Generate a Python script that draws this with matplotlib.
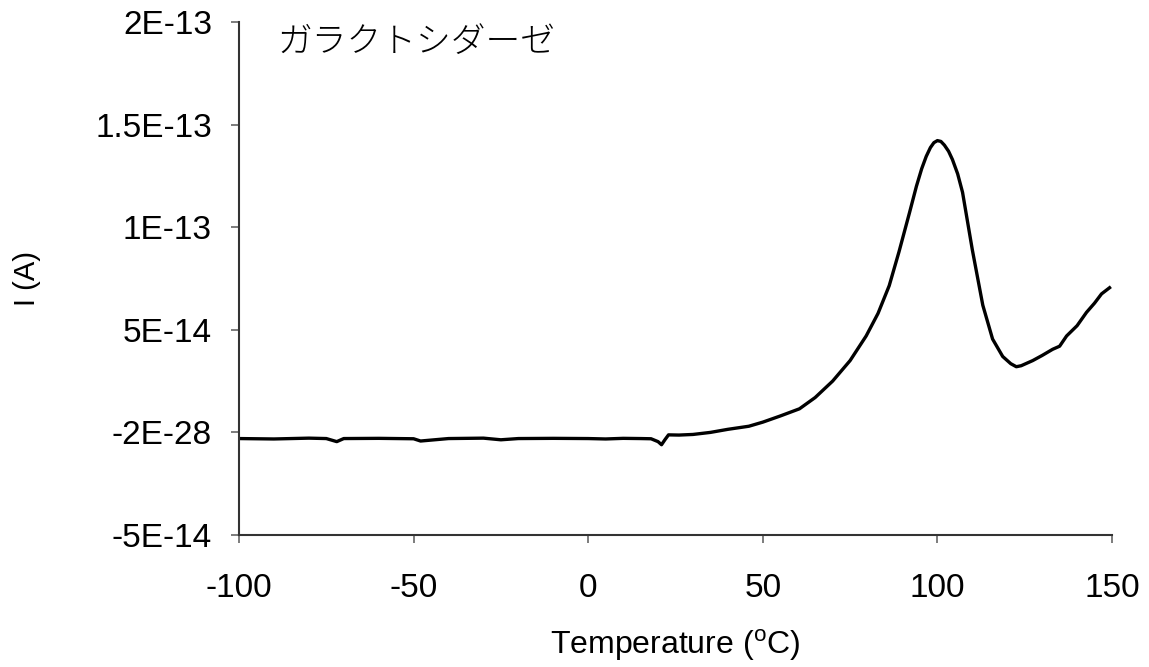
import matplotlib
matplotlib.use("Agg")
import matplotlib.pyplot as plt
import numpy as np

# Data (temperature in degC, current in units of 1e-15 A)
temperature = [-100, -90, -80, -75, -72, -70, -60, -50, -48, -40, -30, -25, -20, -10, 0, 5, 10, 15, 18,
               20, 21, 22, 23, 26, 30, 35, 40, 46, 50, 55, 60.5, 65, 70, 75, 79.6, 83, 86.2, 89, 92,
               94, 95.5, 96.8, 98, 99, 100, 101, 102, 103.2, 104.3, 105.8, 107.2, 110, 113, 115.8, 118.7, 121, 122.6, 124,
               127.3, 130, 133, 135, 137, 140, 142.7, 145, 147, 149.3]
current_fA = [-3.0, -3.2, -2.8, -3.0, -4.5, -3.0, -2.9, -3.1, -4.2, -3.0, -2.8, -3.6, -3.0, -2.9, -3.0, -3.2, -2.9, -3.0, -3.1,
              -4.5, -6.0, -3.5, -1.2, -1.3, -1.0, 0.0, 1.5, 3.0, 5.0, 8.0, 11.5, 17.0, 25.0, 35.0, 47.0, 58.0, 71.5, 88.0, 107.0,
              120.0, 128.5, 134.5, 138.8, 141.2, 142.2, 141.8, 140.0, 137.0, 133.0, 126.0, 117.0, 89.0, 62.0, 45.5, 37.0, 33.5, 32.0, 32.5,
              35.0, 37.5, 40.5, 42.0, 47.0, 52.0, 58.5, 63.0, 67.5, 70.5]

x_ticks = [-100, -50, 0, 50, 100, 150]
y_ticks = [-5e-14, -2e-28, 5e-14, 1e-13, 1.5e-13, 2e-13]
y_tick_labels = ["-5E-14", "-2E-28", "5E-14", "1E-13", "1.5E-13", "2E-13"]
title_text = "ガラクトシダーゼ"

plt.rcParams['font.family'] = ['Liberation Sans', 'DejaVu Sans']
plt.rcParams['mathtext.fontset'] = 'custom'
plt.rcParams['mathtext.rm'] = 'Liberation Sans'

fig = plt.figure(figsize=(11.49, 6.67), dpi=100)
ax = fig.add_axes([239/1149, 1-535/667, (1112-239)/1149, (535-22)/667])

ax.plot(temperature, np.array(current_fA) * 1e-15, color='black', linewidth=2.4)

ax.set_xlim(-100, 150)
ax.set_ylim(-5e-14, 2e-13)
ax.set_xticks(x_ticks)
ax.set_xticklabels([str(v) for v in x_ticks])
ax.set_yticks(y_ticks)
ax.set_yticklabels(y_tick_labels)

for s in ['top', 'right']:
    ax.spines[s].set_visible(False)
for s in ['left', 'bottom']:
    ax.spines[s].set_color('#333333')
    ax.spines[s].set_linewidth(1.5)

ax.tick_params(axis='both', direction='out', length=6, width=1.2, color='#666666',
               labelsize=24)
ax.tick_params(axis='y', pad=13.5)
ax.tick_params(axis='x', pad=21.5)

ax.set_xlabel(r"Temperature ($^{\mathrm{o}}$C)", fontsize=23, va='center')
ax.xaxis.set_label_coords(0.5, -0.214)
ax.set_ylabel("I (A)", fontsize=21, va='center')
ax.yaxis.set_label_coords(-0.243, 0.5)

ax.text(277/1149, 1-42/667, title_text, transform=fig.transFigure,
        fontsize=25, va='center', ha='left',
        family=['Noto Sans CJK JP', 'DejaVu Sans'], fontweight='light')

fig.savefig("out.png", dpi=100)
